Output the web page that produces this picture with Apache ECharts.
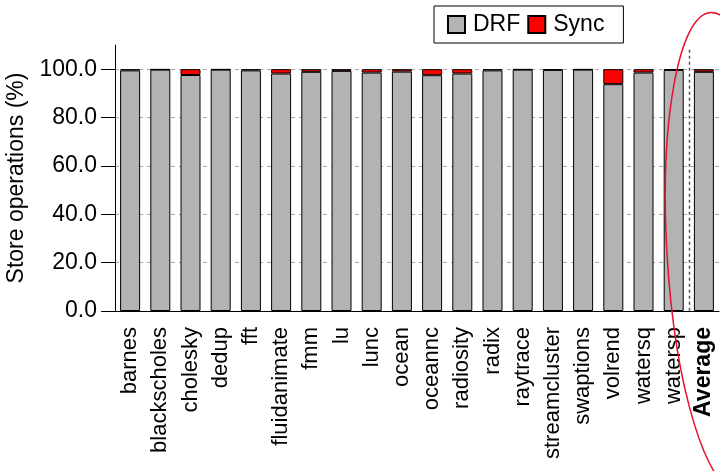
<!DOCTYPE html>
<html>
<head>
<meta charset="utf-8">
<script src="https://cdn.jsdelivr.net/npm/echarts@6/dist/echarts.min.js"></script>
<style>
  html, body { margin: 0; padding: 0; background: #fff; }
  #chart { width: 720px; height: 471px; }
</style>
</head>
<body>
<div id="chart"></div>
<script>
const categories = ['barnes', 'blackscholes', 'cholesky', 'dedup', 'fft', 'fluidanimate', 'fmm', 'lu', 'lunc', 'ocean',
  'oceannc', 'radiosity', 'radix', 'raytrace', 'streamcluster', 'swaptions', 'volrend', 'watersq', 'watersp', 'Average'];
const drfValues = [99.5, 99.8, 97.6, 99.8, 99.5, 98.2, 98.9, 99.3, 98.6, 99.0,
  97.5, 98.2, 99.5, 99.8, 99.7, 99.8, 93.8, 98.6, 99.7, 98.9];
const syncValues = [0.5, 0.2, 2.4, 0.2, 0.5, 1.8, 1.1, 0.7, 1.4, 1.0,
  2.5, 1.8, 0.5, 0.2, 0.3, 0.2, 6.2, 1.4, 0.3, 1.1];
const yTicks = [0, 20, 40, 60, 80, 100];

const font = 'Liberation Sans, Arial, sans-serif';
const chart = echarts.init(document.getElementById('chart'));

chart.setOption({
  animation: false,
  textStyle: { fontFamily: font },
  grid: { left: 115, right: 1, top: 45, bottom: 160, outerBoundsMode: 'none', containLabel: false },
  legend: {
    left: 434,
    top: 6,
    padding: [7, 19, 7, 13],
    itemGap: 7,
    itemWidth: 17,
    itemHeight: 17,
    icon: 'rect',
    borderColor: '#000',
    borderWidth: 1,
    textStyle: { fontSize: 23, color: '#000', fontFamily: font, padding: [0, 0, 0, 3] },
    data: ['DRF', 'Sync'],
  },
  xAxis: {
    type: 'category',
    data: categories,
    axisLine: { lineStyle: { color: '#000', width: 1 } },
    axisTick: { alignWithLabel: true, length: 15, lineStyle: { color: '#000' } },
    axisLabel: {
      rotate: 90,
      interval: 0,
      margin: 16,
      fontSize: 22,
      color: '#000',
      fontFamily: font,
      formatter: (v) => (v === 'Average' ? '{b|' + v + '}' : v),
      rich: { b: { fontWeight: 'bold', fontSize: 23, fontFamily: font, color: '#000' } },
    },
  },
  yAxis: {
    type: 'value',
    min: 0,
    max: 110,
    interval: 20,
    name: 'Store operations (%)',
    nameLocation: 'middle',
    nameGap: 83,
    nameTextStyle: { fontSize: 23, color: '#000', fontFamily: font },
    axisLine: { show: true, lineStyle: { color: '#000', width: 1 } },
    axisTick: { show: true, length: 14, lineStyle: { color: '#000' }, customValues: yTicks },
    axisLabel: {
      margin: 18,
      fontSize: 23,
      color: '#000',
      fontFamily: font,
      customValues: yTicks,
      formatter: (v) => v.toFixed(1),
    },
    splitLine: { show: true, customValues: yTicks, lineStyle: { color: '#aaa', type: [4, 4], width: 1 } },
  },
  series: [
    {
      name: 'DRF',
      type: 'bar',
      stack: 'total',
      barWidth: 20,
      data: drfValues,
      itemStyle: { color: '#b3b3b3', borderColor: '#000', borderWidth: 1 },
    },
    {
      name: 'Sync',
      type: 'bar',
      stack: 'total',
      barWidth: 20,
      data: syncValues,
      itemStyle: { color: '#ff0000', borderColor: '#000', borderWidth: 1 },
    },
  ],
});

// dotted separator before the Average bar, plus the hand-drawn ellipse
const xa = chart.convertToPixel({ xAxisIndex: 0 }, 'watersp');
const xb = chart.convertToPixel({ xAxisIndex: 0 }, 'Average');
const yTop = chart.convertToPixel({ yAxisIndex: 0 }, 108);
const yBot = chart.convertToPixel({ yAxisIndex: 0 }, 0);
const sepX = Math.round((xa + xb) / 2) + 0.5;

chart.setOption({
  graphic: [
    {
      type: 'line',
      z: 10,
      shape: { x1: sepX, y1: yTop, x2: sepX, y2: yBot },
      style: { stroke: '#555', lineWidth: 1.5, lineDash: [3, 3] },
    },
    {
      type: 'ellipse',
      z: 20,
      x: 725,
      y: 252,
      rotation: 0.06,
      shape: { cx: 0, cy: 0, rx: 58, ry: 240 },
      style: { fill: 'none', stroke: '#e8102c', lineWidth: 1.5 },
    },
  ],
});
</script>
</body>
</html>
